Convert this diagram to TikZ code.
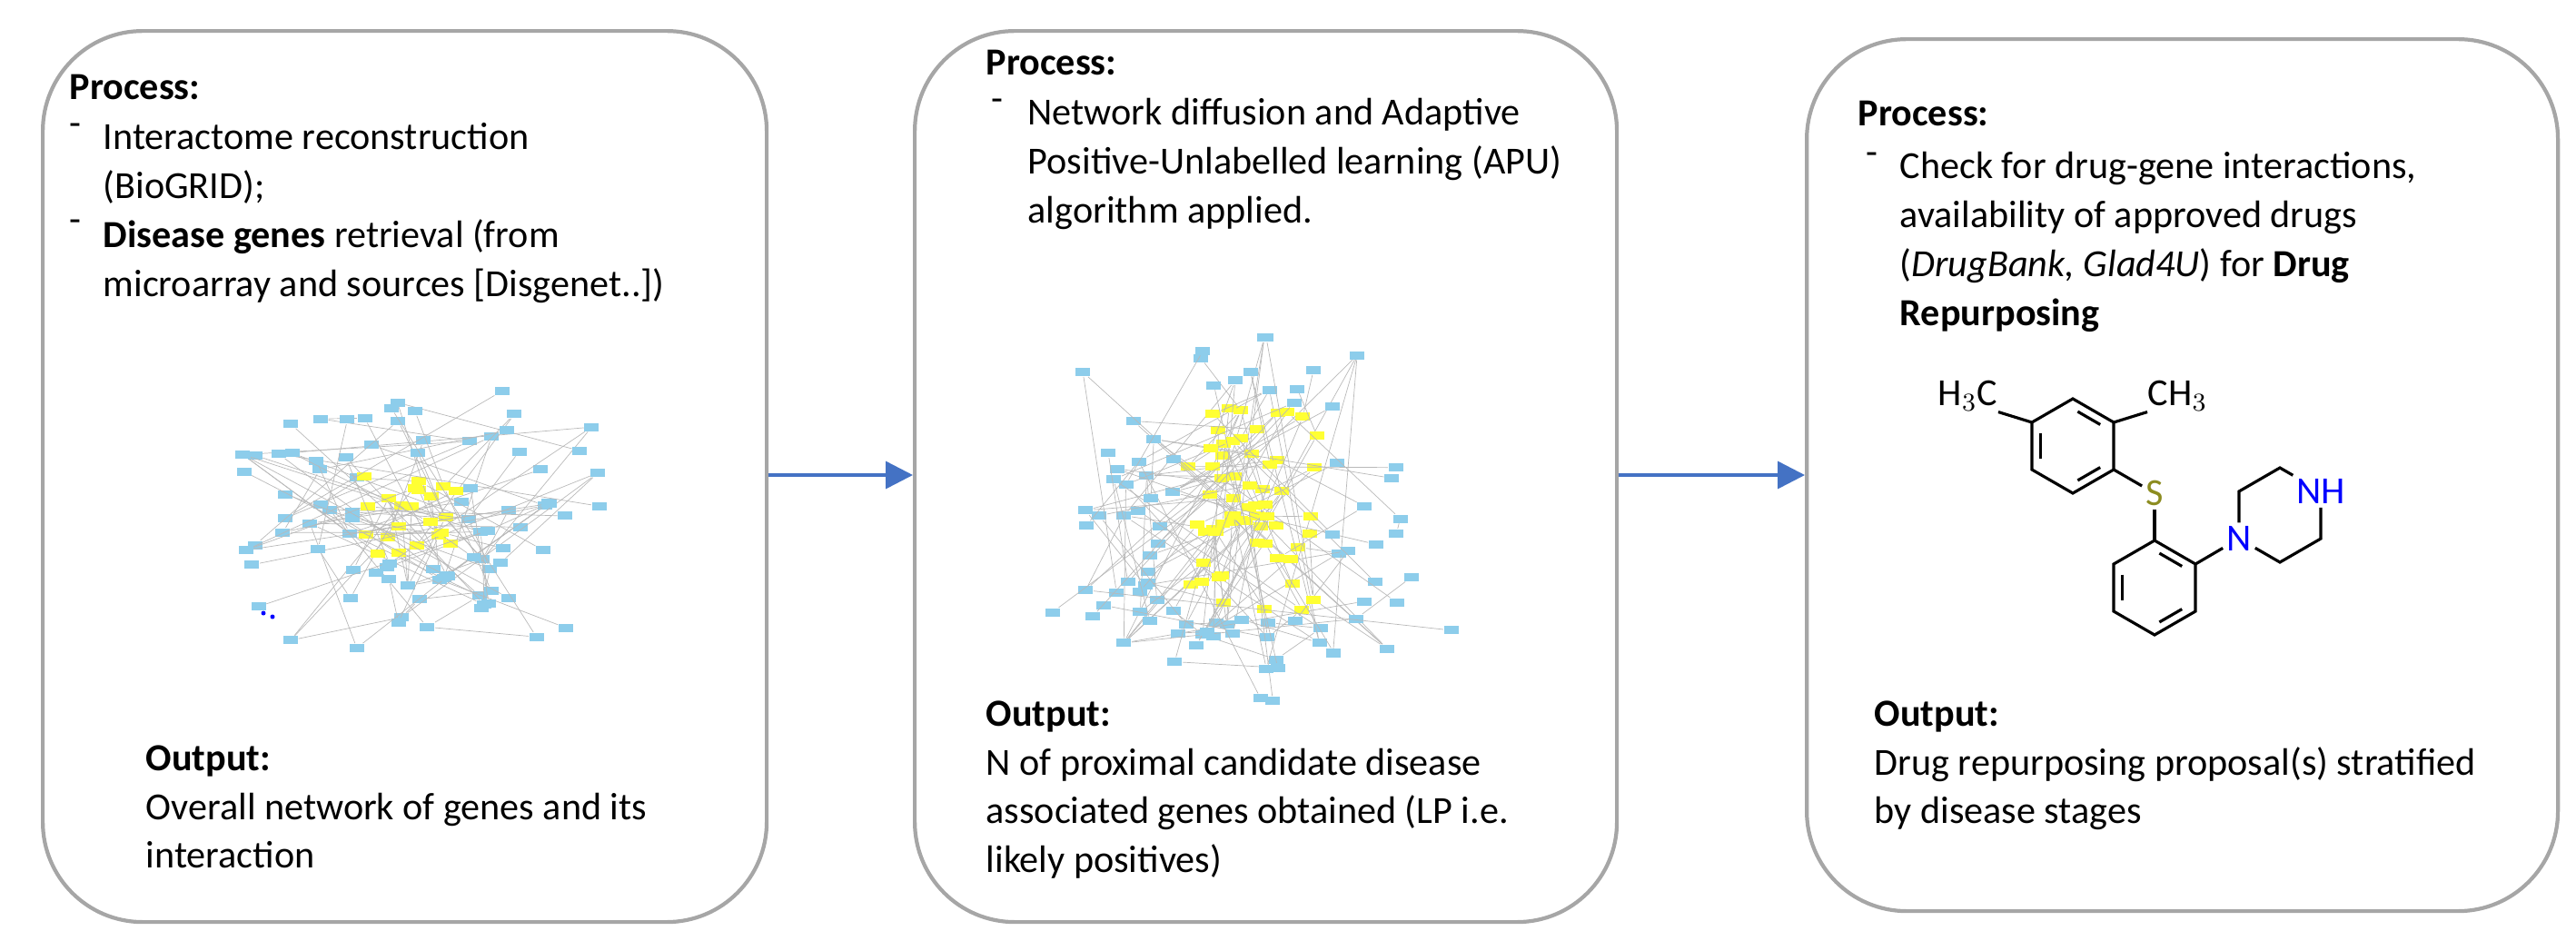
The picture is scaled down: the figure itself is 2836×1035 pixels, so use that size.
\documentclass[tikz,border=0pt]{standalone}
\usepackage{fontspec}
\setmainfont{Carlito}
\usetikzlibrary{arrows.meta,calc}
\definecolor{netblue}{HTML}{8DCDEB}
\definecolor{netyellow}{HTML}{FFFF33}
\definecolor{arrblue}{HTML}{4472C4}
\definecolor{sulfur}{HTML}{8C8C20}

\begin{document}
\begin{tikzpicture}[
                x=0.1mm, y=-0.1mm,
                every node/.style={font=\fontsize{12}{15.3}\selectfont},
                stage/.style={draw=gray!70, line width=1.2pt, rounded corners=1.1cm},
                txt/.style={anchor=north west, inner sep=0pt, align=left},
                flow/.style={draw=arrblue, line width=1pt, -{Triangle[length=3mm,width=3mm]}},
                gb/.style={draw=none, fill=netblue, minimum width=1.6mm, minimum height=0.9mm, inner sep=0pt},
                gy/.style={draw=none, fill=netyellow, minimum width=1.6mm, minimum height=0.9mm, inner sep=0pt},
                link/.style={draw=gray!55, line width=0.2pt},
                bond/.style={line width=0.9pt},
                atom/.style={inner sep=1pt, font=\fontsize{12}{14}\selectfont}]

\useasboundingbox (0,0) rectangle (2836,1035);

% boxes
\node[stage, minimum width=7.97cm, minimum height=9.81cm, anchor=north west] (BOXA) at (45,32) {};
\node[stage, minimum width=7.73cm, minimum height=9.81cm, anchor=north west] (BOXB) at (1005,32) {};
\node[stage, minimum width=8.27cm, minimum height=9.60cm, anchor=north west] (BOXC) at (1987,41) {};

\draw[flow] (BOXA.east |- 0,523) -- (BOXB.west |- 0,523);
\draw[flow] (BOXB.east |- 0,523) -- (BOXC.west |- 0,523);

% 1
\node[txt] (PA) at (76,81) {\textbf{Process:}};
\node[txt] (DA1) at (76,135) {-};
\node[txt] (TA1) at (113,135) {Interactome reconstruction\\(BioGRID);};
\node[txt] (DA2) at (76,241) {-};
\node[txt] (TA2) at (113,241) {\textbf{Disease genes} retrieval (from\\microarray and sources [Disgenet..])};
\node[txt] (OA) at (160,820) {\textbf{Output:}\\Overall network of genes and its\\interaction};

% 2
\node[txt] (PB) at (1085,54) {\textbf{Process:}};
\node[txt] (DB1) at (1091,108) {-};
\node[txt] (TB1) at (1131,108) {Network diffusion and Adaptive\\Positive-Unlabelled learning (APU)\\algorithm applied.};
\node[txt] (OB) at (1085,771) {\textbf{Output:}\\N of proximal candidate disease\\associated genes obtained (LP i.e.\\likely positives)};

% 3
\node[txt] (PC) at (2045,110) {\textbf{Process:}};
\node[txt] (DC1) at (2054,167) {-};
\node[txt] (TC1) at (2091,167) {Check for drug-gene interactions,\\availability of approved drugs\\(\textit{DrugBank, Glad4U}) for \textbf{Drug}\\\textbf{Repurposing}};
\node[txt] (OC) at (2063,771) {\textbf{Output:}\\Drug repurposing proposal(s) stratified\\by disease stages};

% networks
\pgfmathsetseed{7}
\foreach \i in {1,...,110}{
    \pgfmathsetmacro{\dx}{(rand+rand)*115}
    \pgfmathsetmacro{\dy}{(rand+rand)*85}
    \pgfmathtruncatemacro{\pick}{1+mod(abs(round(rand*1000)),max(\i-1,1))}
    \pgfmathtruncatemacro{\yl}{(abs(\dx)<55 && abs(\dy)<55) ? 1 : 0}
    \ifnum\yl=1
      \node[gy] (na\i) at (450+\dx,560+\dy) {};
    \else
      \node[gb] (na\i) at (450+\dx,560+\dy) {};
    \fi
    \ifnum\i>1 \draw[link] (na\i) -- (na\pick); \fi
}
\foreach \i in {1,...,150}{
    \pgfmathsetmacro{\dx}{(rand+rand)*115}
    \pgfmathsetmacro{\dy}{(rand+rand)*110}
    \pgfmathtruncatemacro{\pick}{1+mod(abs(round(rand*1000)),max(\i-1,1))}
    \pgfmathtruncatemacro{\yl}{(abs(\dx)<80 && abs(\dy)<115) ? 1 : 0}
    \ifnum\yl=1
      \node[gy] (nb\i) at (1375+\dx,560+\dy) {};
    \else
      \node[gb] (nb\i) at (1375+\dx,560+\dy) {};
    \fi
    \ifnum\i>1 \draw[link] (nb\i) -- (nb\pick); \fi
}
\fill[blue] (290,675) circle (2.5) (300,679) circle (2.5);

% molecule
\foreach \a [count=\k] in {90,30,-30,-90,-150,150}{
    \coordinate (ra\k) at ({2282+52*cos(\a)},{491-52*sin(\a)});
    \coordinate (ia\k) at ({2282+41*cos(\a)},{491-41*sin(\a)});
    \coordinate (rb\k) at ({2372+52*cos(\a)},{647-52*sin(\a)});
    \coordinate (ib\k) at ({2372+41*cos(\a)},{647-41*sin(\a)});
    \coordinate (rc\k) at ({2510+52*cos(\a)},{567-52*sin(\a)});
}
\draw[bond] (ra1) -- (ra2) -- (ra3) -- (ra4) -- (ra5) -- (ra6) -- cycle;
\draw[bond] (rb1) -- (rb2) -- (rb3) -- (rb4) -- (rb5) -- (rb6) -- cycle;
\foreach \p/\q in {6/5,4/3,1/2}{
    \draw[bond] ($(ia\p)!0.15!(ia\q)$) -- ($(ia\p)!0.85!(ia\q)$);
    \draw[bond] ($(ib\p)!0.15!(ib\q)$) -- ($(ib\p)!0.85!(ib\q)$);
}
\node[atom, anchor=east, inner sep=0pt] (ME1) at (2200,436) {H$_3$C};
\node[atom, anchor=west, inner sep=0pt] (ME2) at (2364,436) {CH$_3$};
\draw[bond] (ra6) -- (ME1.south east);
\draw[bond] (ra2) -- (ME2.south west);
\node[atom, text=sulfur] (SU) at (2372,543) {S};
\draw[bond] (ra3) -- (SU);
\draw[bond] (SU) -- (rb1);
\node[atom, text=blue] (NA) at (rc5) {N};
\node[atom, text=blue] (NB) at (rc2) {NH};
\draw[bond] (rb2) -- (NA);
\draw[bond] (NA) -- (rc6) -- (rc1) -- (NB);
\draw[bond] (NB) -- (rc3) -- (rc4) -- (NA);
\end{tikzpicture}
\end{document}
